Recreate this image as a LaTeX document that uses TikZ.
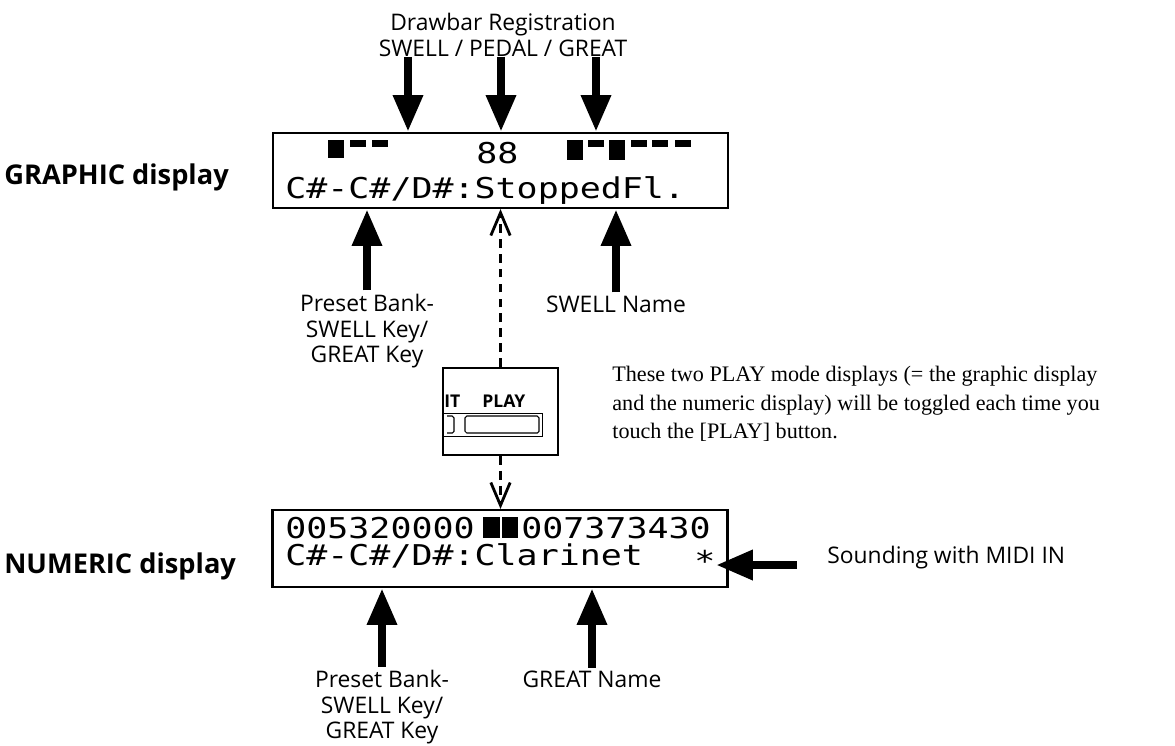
\documentclass[tikz,border=0pt]{standalone}
\usepackage{fontspec}
\setmainfont{Liberation Serif}
\setsansfont{Open Sans}
\newfontfamily\lcdfont[FakeStretch=1.22]{DejaVu Sans Mono}
\usetikzlibrary{arrows.meta}

\begin{document}
\begin{tikzpicture}[x=0.02cm, y=-0.02cm,
    lbl/.style={font=\sffamily\fontsize{13}{14.5}\selectfont, align=center, inner sep=0pt, anchor=north},
    side/.style={font=\sffamily\bfseries\fontsize{15.5}{18}\selectfont, inner sep=0pt, anchor=base west},
    lcd/.style={font=\lcdfont\fontsize{16.3}{17}\selectfont, inner sep=0pt, anchor=base west},
    lcdbox/.style={draw, line width=1.2pt, minimum width=9.1cm, minimum height=1.5cm, inner sep=0pt},
    bigarrow/.style={line width=5pt, -{Triangle[length=21pt,width=16pt]}},
    togglearrow/.style={line width=2.2pt, dash pattern=on 5pt off 3.5pt,
      -{Straight Barb[length=13pt,width=11pt,line width=1.6pt]}}]
  \useasboundingbox (0,0) rectangle (1175,745);

  % displays
  \node[lcdbox] (gdisp) at (500.5,170.5) {};
  \node[lcdbox, minimum height=1.54cm] (ndisp) at (500,548.5) {};
  \node[side] (gname) at (4,184) {GRAPHIC display};
  \node[side] (nname) at (4,573) {NUMERIC display};

  % graphic display contents
  \foreach \x/\h in {328/18, 350/7, 372/7, 567/20, 588/7, 609/20, 631/7, 652/7, 675/7}
    \fill (\x,140) rectangle +(16,\h);
  \node[lcd] (gbars) at (476,163) {88};
  \node[lcd] (grow) at (285,198) {C\#-C\#/D\#:StoppedFl.};

  % numeric display contents
  \node[lcd] (nleft) at (285,538) {005320000};
  \fill (483,517) rectangle (500,538);
  \fill (502,517) rectangle (518,538);
  \node[lcd] (nright) at (521,538) {007373430};
  \node[lcd] (nrow) at (285,565) {C\#-C\#/D\#:Clarinet};
  \node[lcd, anchor=center] (star) at (705,561) {*};

  % labels
  \node[lbl] (regtitle) at (503,13) {Drawbar Registration\\SWELL / PEDAL / GREAT};
  \node[lbl] (gbank) at (367,294) {Preset Bank-\\SWELL Key/\\GREAT Key};
  \node[lbl] (swname) at (616,296) {SWELL Name};
  \node[lbl] (nbank) at (382,670) {Preset Bank-\\SWELL Key/\\GREAT Key};
  \node[lbl] (gtname) at (592,671) {GREAT Name};
  \node[font=\sffamily\fontsize{13}{14.5}\selectfont, anchor=west, inner sep=0pt] (midi) at (827,558) {Sounding with MIDI IN};
  \node[anchor=north west, align=left, inner sep=0pt, font=\fontsize{12.6}{16.2}\selectfont] (note) at (612,366)
    {These two PLAY mode displays (= the graphic display\\and the numeric display) will be toggled each time you\\touch the [PLAY] button.};

  % PLAY button
  \node[draw, line width=1.1pt, minimum width=2.3cm, minimum height=1.74cm, inner sep=0pt] (play) at (500.5,411.5) {};
  \begin{scope}
    \clip (play.south west) rectangle (play.north east);
    \node[font=\sffamily\bfseries\fontsize{10}{12}\selectfont, inner sep=0pt, anchor=base west] (edit) at (444,407) {IT};
    \node[font=\sffamily\bfseries\fontsize{10}{12}\selectfont, inner sep=0pt, anchor=base west] (playtxt) at (482,407) {PLAY};
    \draw[line width=0.5pt] (440,413) -- (542,413) -- (542,436) -- (440,436);
    \draw[line width=0.6pt, rounded corners=1pt] (465,416) rectangle (539,433);
    \draw[line width=0.6pt, rounded corners=1pt] (447,416) -- (454,416) -- (454,433) -- (447,433);
  \end{scope}

  % arrows
  \foreach \n/\x in {sw/408, pd/501, gt/596}
    \coordinate (\n) at (\x,0);
  \foreach \n in {sw,pd,gt}
    \draw[bigarrow] (\n |- regtitle.south) -- (\n |- gdisp.north);
  \draw[bigarrow, shorten <=2pt] (gbank.north) -- (gbank.north |- gdisp.south);
  \draw[bigarrow, shorten <=2pt] (swname.north) -- (swname.north |- gdisp.south);
  \draw[bigarrow, shorten <=2pt] (nbank.north) -- (nbank.north |- ndisp.south);
  \draw[bigarrow, shorten <=2pt] (gtname.north) -- (gtname.north |- ndisp.south);
  \coordinate (midiend) at (797,565);
  \draw[bigarrow] (midiend) -- (star.east |- midiend);
  \draw[togglearrow] (play.north) -- (play.north |- gdisp.south);
  \draw[togglearrow] (play.south) -- (play.south |- ndisp.north);
\end{tikzpicture}
\end{document}
